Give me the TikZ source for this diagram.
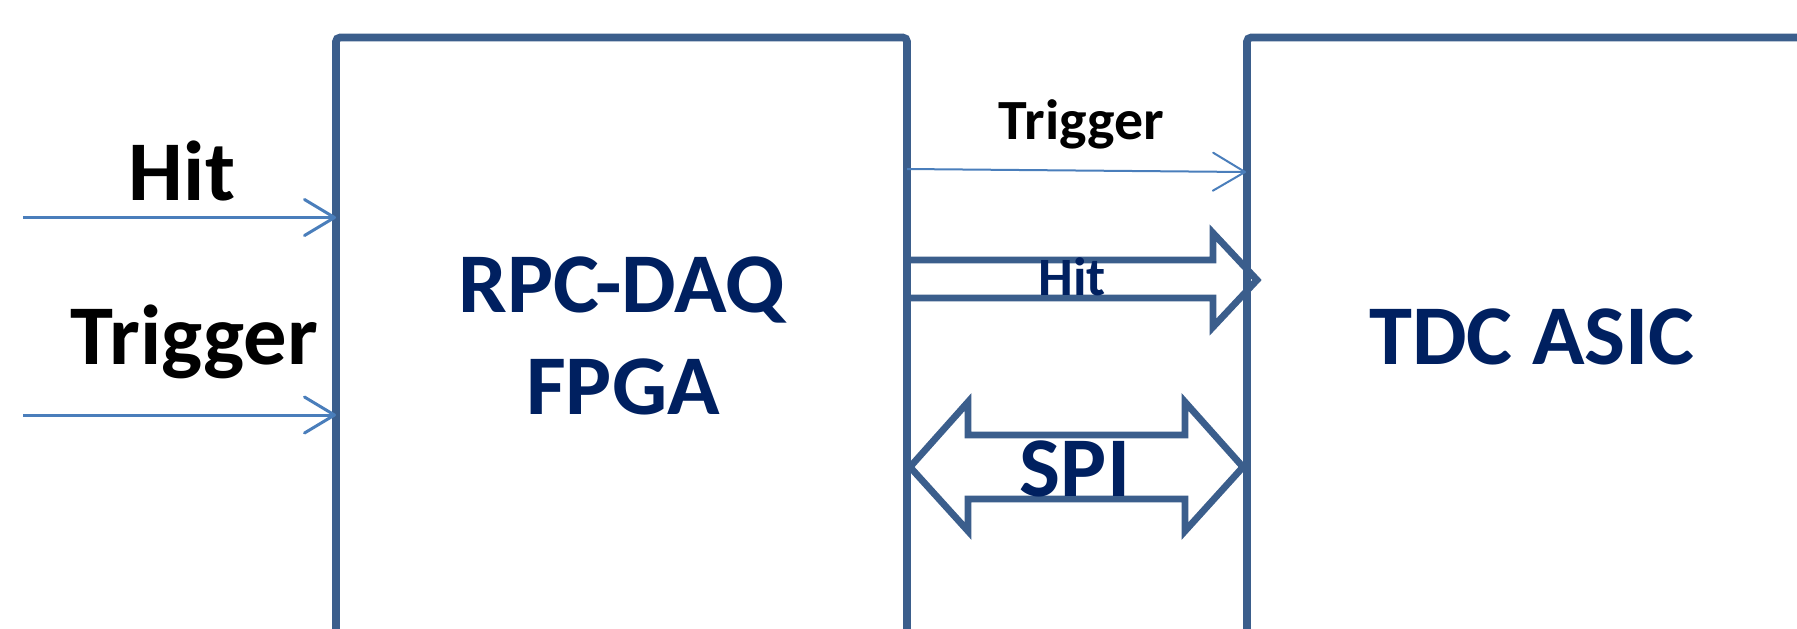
\documentclass[tikz,border=0pt]{standalone}
\usepackage{fontspec}
\setmainfont{Carlito}
\usetikzlibrary{arrows.meta}
\definecolor{boxblue}{RGB}{59,94,140}
\definecolor{linkblue}{RGB}{74,126,187}
\definecolor{navy}{RGB}{0,32,96}
% slightly widened lettering
\newcommand{\widetext}[1]{\scalebox{1.02}[1]{#1}}
\begin{document}
\begin{tikzpicture}[x=0.5pt,y=-0.5pt,
  blockframe/.style={draw=boxblue,line width=3.8pt,rounded corners=2pt,rectangle,
    inner sep=0pt,outer sep=0pt,anchor=north west,minimum height=420pt},
  wire/.style={draw=linkblue,line width=1.5pt,
    -{Straight Barb[length=15pt,width=18pt,round]}},
  thinwire/.style={draw=linkblue,line width=1pt,
    -{Straight Barb[length=16pt,width=19pt,round]}},
  busarrow/.style={draw=boxblue,line width=3.4pt,line join=miter},
  biglabel/.style={font=\fontsize{42.5pt}{42.5pt}\selectfont\bfseries,inner sep=0pt,anchor=base},
  boxlabel/.style={biglabel,text=navy},
  smalllabel/.style={font=\fontsize{28.4pt}{28.4pt}\selectfont\bfseries,inner sep=0pt,anchor=base},
  buslabel/.style={font=\fontsize{27pt}{27pt}\selectfont\bfseries,inner sep=0pt,anchor=base,text=navy}]
  \useasboundingbox (0,0) rectangle (1797,628);
  \clip (0,0) rectangle (1797,628);

  % the two blocks, running off the bottom and right of the sheet
  \node[blockframe,minimum width=285.5pt] (fpga) at (336,37.5) {};
  \node[blockframe,minimum width=400pt] (tdc) at (1247,37.5) {};

  % block titles
  \node[boxlabel] (fpgaA) at (622,312) {\widetext{RPC-DAQ}};
  \node[boxlabel] (fpgaB) at (623,414) {\widetext{FPGA}};
  \node[boxlabel] (tdcname) at (1532,364) {\widetext{TDC ASIC}};

  % external inputs of the FPGA
  \coordinate (hitsrc) at (23,217.5);
  \coordinate (trgsrc) at (23,415);
  \draw[wire] (hitsrc) -- (hitsrc -| fpga.west);
  \draw[wire] (trgsrc) -- (trgsrc -| fpga.west);
  \node[biglabel] (hitin) at (182,200) {\widetext{Hit}};
  \node[biglabel] (trgin) at (194.5,364) {\widetext{Trigger}};

  % trigger line from FPGA to TDC
  \coordinate (trgA) at (907,169);
  \coordinate (trgB) at (1246,172);
  \draw[thinwire] (trgA) -- (trgB);
  \node[smalllabel] (trgout) at (1081.5,139) {\widetext{Trigger}};

  % hit bus: outlined block arrow
  \draw[busarrow] (907,260) -- (1213,260) -- (1213,233) -- (1257,280)
    -- (1213,327) -- (1213,298) -- (907,298) -- cycle;
  \node[buslabel] (hitbus) at (1072,295) {\widetext{Hit}};

  % SPI: outlined double-headed block arrow
  \draw[busarrow] (910,467) -- (968,402) -- (968,435) -- (1185,435) -- (1185,402)
    -- (1243,467) -- (1185,531) -- (1185,499) -- (968,499) -- (968,531) -- cycle;
  \node[boxlabel] (spi) at (1075,496) {\widetext{SPI}};
\end{tikzpicture}
\end{document}
